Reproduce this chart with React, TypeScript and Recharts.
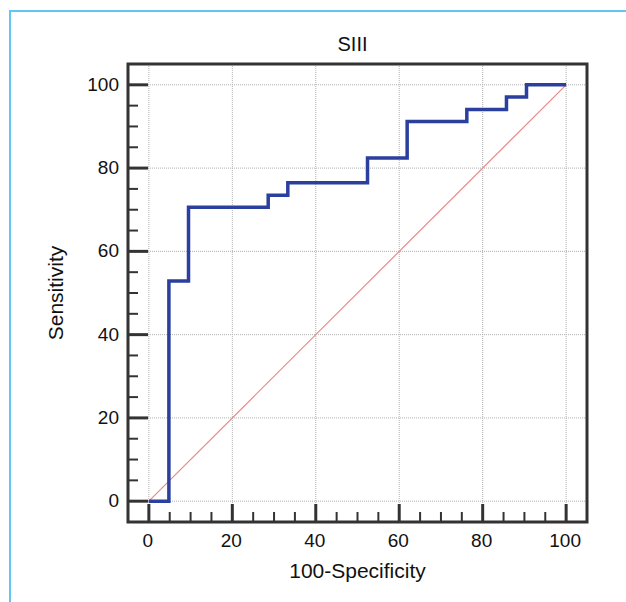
import { LineChart, Line, XAxis, YAxis, CartesianGrid, ReferenceArea } from 'recharts';

// ROC curve vertices (step-after): 100-Specificity vs Sensitivity
const specPoints = [0, 4.8, 9.5, 28.6, 33.3, 52.4, 61.9, 76.2, 85.7, 90.5, 100];
const sensPoints = [0, 52.9, 70.6, 73.5, 76.5, 82.4, 91.2, 94.1, 97.1, 100, 100];

const diagX = [0, 100];
const diagY = [0, 100];

const axisTicks = [0, 5, 10, 15, 20, 25, 30, 35, 40, 45, 50, 55, 60, 65, 70, 75, 80, 85, 90, 95, 100];
const gridValues = [0, 20, 40, 60, 80, 100];

const rocData = specPoints.map((x, i) => ({ x, y: sensPoints[i] }));
const diagData = diagX.map((x, i) => ({ x, y: diagY[i] }));

const FONT = '"Liberation Sans", Arial, sans-serif';
const AXIS = '#333';

const XTick = (props: any) => {
  const { x, y, payload } = props;
  const major = payload.value % 20 === 0;
  return (
    <g>
      <line x1={x} x2={x} y1={y} y2={y - (major ? 18 : 10)} stroke={AXIS} strokeWidth={major ? 3 : 2} />
      {major && (
        <text x={x - 1} y={y + 25} textAnchor="middle" fontSize={19} fontFamily={FONT} fill="#111">
          {payload.value}
        </text>
      )}
    </g>
  );
};

const YTick = (props: any) => {
  const { x, y, payload } = props;
  const major = payload.value % 20 === 0;
  return (
    <g>
      <line x1={x} x2={x + (major ? 20 : 10)} y1={y} y2={y} stroke={AXIS} strokeWidth={major ? 3 : 2} />
      {major && (
        <text x={x - 9} y={y + 6} textAnchor="end" fontSize={19} fontFamily={FONT} fill="#111">
          {payload.value}
        </text>
      )}
    </g>
  );
};

const YLabel = ({ viewBox }: any) => {
  const cx = viewBox.x - 12;
  const cy = viewBox.y + viewBox.height / 2;
  return (
    <text x={cx} y={cy} transform={`rotate(-90 ${cx} ${cy})`} textAnchor="middle" dy={7}
      fontSize={21} fontFamily={FONT} fill="#111">
      Sensitivity
    </text>
  );
};

const Title = ({ viewBox }: any) => (
  <text x={viewBox.x + viewBox.width / 2 - 5} y={viewBox.y - 13} textAnchor="middle"
    fontSize={20} fontFamily={FONT} fill="#111">
    SIII
  </text>
);

export default function App() {
  return (
    <div style={{ position: 'absolute', left: 0, top: 0, width: 626, height: 602, background: '#fff' }}>
      <div style={{ position: 'absolute', left: 9, top: 10, right: 0, bottom: 0, borderTop: '2px solid #62c6f0', borderLeft: '2px solid #62c6f0' }} />
      <div style={{ position: 'absolute', left: 0, top: 0 }}>
        <LineChart width={626} height={602} margin={{ top: 64, right: 39, left: 68, bottom: 20 }}>
          <CartesianGrid stroke="#b0b0b0" strokeDasharray="1 1" horizontalValues={gridValues} verticalValues={gridValues} />
          <XAxis dataKey="x" type="number" domain={[-5, 105]} ticks={axisTicks} interval={0}
            tick={<XTick />} tickLine={false} axisLine={false} tickSize={0} tickMargin={0} height={60}
            label={{ value: '100-Specificity', position: 'insideBottom', offset: 4, fontSize: 21, fontFamily: FONT, fill: '#111' }} />
          <YAxis type="number" domain={[-5, 105]} ticks={axisTicks} interval={0}
            tick={<YTick />} tickLine={false} axisLine={false} tickSize={0} tickMargin={0} width={60}
            label={<YLabel />} />
          <ReferenceArea x1={-5} x2={105} y1={-5} y2={105} fill="none" stroke={AXIS} strokeWidth={3}
            label={<Title />} />
          <Line data={diagData} dataKey="y" type="linear" stroke="#e88a8a" strokeWidth={1.2} dot={false} isAnimationActive={false} />
          <Line data={rocData} dataKey="y" type="stepAfter" stroke="#2b3f9f" strokeWidth={3.5} dot={false} isAnimationActive={false} />
        </LineChart>
      </div>
    </div>
  );
}
